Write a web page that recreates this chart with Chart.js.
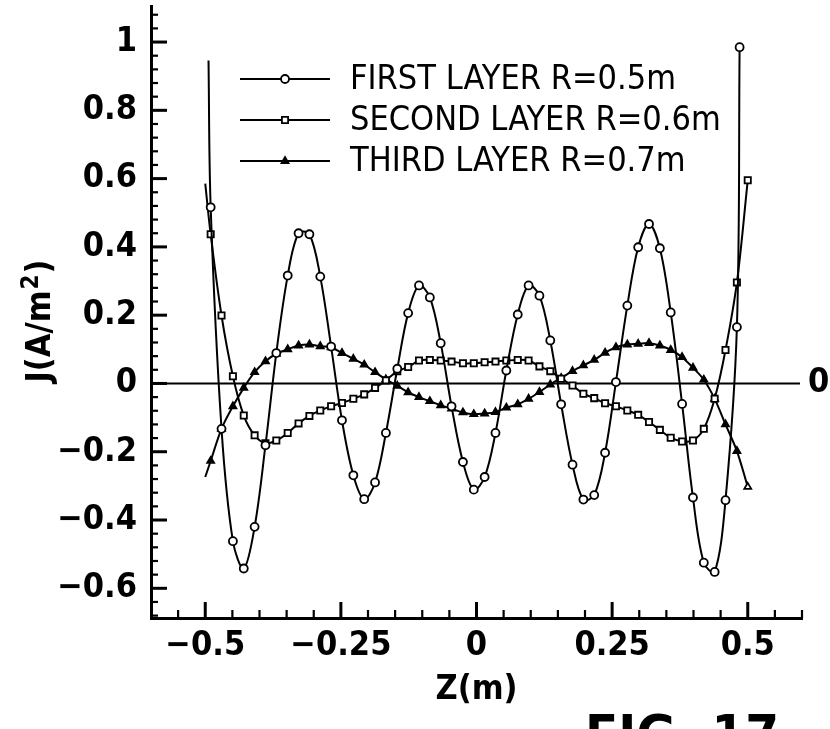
<!DOCTYPE html>
<html>
<head>
<meta charset="utf-8">
<style>
html,body{margin:0;padding:0;background:#fff;overflow:hidden;}
canvas{display:block;}
</style>
<script src="https://cdn.jsdelivr.net/npm/chart.js@4.4.1/dist/chart.umd.min.js"></script>
</head>
<body>
<canvas id="c" width="830" height="729"></canvas>
<script>
// ---- data ----
const zGrid = [-0.490,-0.470,-0.449,-0.429,-0.409,-0.389,-0.369,-0.348,-0.328,-0.308,
  -0.288,-0.268,-0.248,-0.227,-0.207,-0.187,-0.167,-0.146,-0.126,-0.106,
  -0.086,-0.066,-0.046,-0.025,-0.005,0.015,0.035,0.055,0.076,0.096,
  0.116,0.136,0.156,0.177,0.197,0.217,0.237,0.257,0.278,0.298,
  0.318,0.338,0.358,0.379,0.399,0.419,0.439,0.459,0.480,0.500];

const zFirst = [-0.494].concat(zGrid.slice(0, 49), [0.485]);
const jFirst = [0.946, 0.516,-0.133,-0.462,-0.542,-0.420,-0.181,0.089,0.316,0.440,0.437,
  0.313,0.108,-0.108,-0.269,-0.339,-0.290,-0.145,0.043,0.206,0.287,
  0.252,0.118,-0.067,-0.230,-0.311,-0.274,-0.145,0.038,0.202,0.287,
  0.257,0.126,-0.061,-0.238,-0.340,-0.327,-0.203,0.004,0.228,0.399,
  0.467,0.396,0.208,-0.060,-0.334,-0.525,-0.552,-0.342,0.165, 0.985];

const zSecond = [-0.500].concat(zGrid);
const jSecond = [0.585, 0.437,0.199,0.021,-0.094,-0.152,-0.175,-0.167,-0.145,-0.117,-0.095,
  -0.079,-0.067,-0.057,-0.045,-0.032,-0.013,0.009,0.036,0.048,0.067,
  0.069,0.067,0.064,0.059,0.059,0.062,0.064,0.067,0.069,0.067,
  0.050,0.036,0.014,-0.006,-0.030,-0.043,-0.058,-0.067,-0.079,-0.092,
  -0.113,-0.136,-0.159,-0.170,-0.167,-0.133,-0.045,0.098,0.296,0.595];

const zThird = [-0.500].concat(zGrid);
const jThird = [-0.274, -0.227,-0.133,-0.067,-0.013,0.033,0.065,0.087,0.100,0.111,0.114,
  0.109,0.106,0.089,0.072,0.055,0.033,0.012,-0.007,-0.026,-0.040,
  -0.052,-0.064,-0.074,-0.085,-0.090,-0.088,-0.084,-0.071,-0.061,-0.045,
  -0.025,-0.003,0.016,0.036,0.053,0.069,0.090,0.106,0.114,0.116,
  0.118,0.111,0.098,0.077,0.046,0.011,-0.045,-0.120,-0.198,-0.303];

const seriesNames = ['FIRST LAYER R=0.5m','SECOND LAYER R=0.6m','THIRD LAYER R=0.7m'];
const xTickValues = [-0.5,-0.25,0,0.25,0.5];
const xTickLabels = ['\u22120.5','\u22120.25','0','0.25','0.5'];
const yTickValues = [-0.6,-0.4,-0.2,0,0.2,0.4,0.6,0.8,1];
const yTickLabels = ['\u22120.6','\u22120.4','\u22120.2','0','0.2','0.4','0.6','0.8','1'];
const xTitle = 'Z(m)';
const yTitleMain = 'J(A/m', yTitleSup = '2', yTitleEnd = ')';
const figLabel = 'FIG. 17';

// ---- styles ----
const FAM = "'Liberation Sans Narrow','DejaVu Sans Condensed','Liberation Sans',sans-serif";
const tickFont = {family: FAM, size: 34, weight: 'bold'};

function pts(zs, js) { return zs.map((z, i) => ({x: z, y: js[i]})); }

function ds(label, zs, js, style, fillFn) {
  return {
    label, data: pts(zs, js), showLine: true,
    borderColor: '#000', borderWidth: 2, tension: 0.35,
    pointStyle: style,
    pointRadius: c => (c.dataIndex === 0 ? 0 : (style === 'rect' ? 4.4 : 4)),
    pointBorderWidth: 1.8, pointBorderColor: '#000',
    pointBackgroundColor: fillFn, clip: false
  };
}

function drawMarker(ctx, style, x, y, fill) {
  ctx.save();
  ctx.lineWidth = 1.8; ctx.strokeStyle = '#000'; ctx.fillStyle = fill;
  ctx.beginPath();
  if (style === 'circle') ctx.arc(x, y, 4, 0, Math.PI * 2);
  else if (style === 'rect') { const s = 4.4 * Math.SQRT1_2; ctx.rect(x - s, y - s, 2 * s, 2 * s); }
  else { const r = 4; ctx.moveTo(x, y - r); ctx.lineTo(x + r * 0.866, y + r * 0.5); ctx.lineTo(x - r * 0.866, y + r * 0.5); ctx.closePath(); }
  ctx.fill(); ctx.stroke();
  ctx.restore();
}

const decor = {
  id: 'decor',
  beforeDatasetsDraw(chart) {
    const {ctx, chartArea: a, scales: {x, y}} = chart;
    ctx.save();
    // zero line
    const y0 = y.getPixelForValue(0);
    ctx.strokeStyle = '#000'; ctx.lineWidth = 2;
    ctx.beginPath(); ctx.moveTo(a.left, y0); ctx.lineTo(a.right - 2, y0); ctx.stroke();
    // inward ticks
    ctx.lineCap = 'butt';
    for (let i = -17; i <= 27; i++) {
      const py = y.getPixelForValue(i * 0.04);
      const major = i % 5 === 0;
      ctx.lineWidth = major ? 3 : 2.2;
      ctx.beginPath(); ctx.moveTo(a.left, py); ctx.lineTo(a.left + (major ? 16 : 7), py); ctx.stroke();
    }
    for (let i = -11; i <= 12; i++) {
      const px = x.getPixelForValue(i * 0.05);
      const major = i % 5 === 0;
      ctx.lineWidth = major ? 3 : 2.2;
      ctx.beginPath(); ctx.moveTo(px, a.bottom); ctx.lineTo(px, a.bottom - (major ? 16 : 8)); ctx.stroke();
    }
    ctx.restore();
  },
  afterDraw(chart) {
    const {ctx, chartArea: a, scales: {y}} = chart;
    ctx.save();
    ctx.fillStyle = '#000';
    // right "0" label
    ctx.font = `bold 34px ${FAM}`;
    ctx.textAlign = 'left'; ctx.textBaseline = 'middle';
    ctx.fillText('0', a.right + 6, y.getPixelForValue(0));
    // legend
    const rows = [79, 120, 161];
    const styles = ['circle', 'rect', 'triangle'];
    ctx.font = `34px ${FAM}`;
    rows.forEach((ry, i) => {
      ctx.strokeStyle = '#000'; ctx.lineWidth = 2;
      ctx.beginPath(); ctx.moveTo(240, ry); ctx.lineTo(330, ry); ctx.stroke();
      drawMarker(ctx, styles[i], 285, ry, i === 2 ? '#000' : '#fff');
      ctx.fillStyle = '#000'; ctx.textAlign = 'left'; ctx.textBaseline = 'middle';
      ctx.fillText(seriesNames[i], 350, ry + 1);
    });
    // y title with raised 2
    ctx.save();
    ctx.translate(38, 322); ctx.rotate(-Math.PI / 2);
    const fMain = `bold 34px ${FAM}`, fSup = `bold 24px ${FAM}`;
    ctx.font = fMain; const w1 = ctx.measureText(yTitleMain).width; const w3 = ctx.measureText(yTitleEnd).width;
    ctx.font = fSup; const w2 = ctx.measureText(yTitleSup).width;
    let sx = -(w1 + w2 + w3) / 2;
    ctx.textAlign = 'left'; ctx.textBaseline = 'alphabetic';
    ctx.font = fMain; ctx.fillText(yTitleMain, sx, 12); sx += w1;
    ctx.font = fSup; ctx.fillText(yTitleSup, sx + 1, 0); sx += w2 + 2;
    ctx.font = fMain; ctx.fillText(yTitleEnd, sx, 12);
    ctx.restore();
    // figure label (cut off at bottom)
    ctx.font = `bold 54px ${FAM}`;
    ctx.textAlign = 'left'; ctx.textBaseline = 'alphabetic';
    ctx.fillText(figLabel, 585, 753);
    ctx.restore();
  }
};

new Chart(document.getElementById('c'), {
  type: 'line',
  data: {
    datasets: [
      ds(seriesNames[0], zFirst, jFirst, 'circle', '#fff'),
      ds(seriesNames[1], zSecond, jSecond, 'rect', '#fff'),
      ds(seriesNames[2], zThird, jThird, 'triangle', c => (c.dataIndex === jThird.length - 1 ? '#fff' : '#000'))
    ]
  },
  options: {
    responsive: false, animation: false, devicePixelRatio: 1,
    layout: {padding: {left: 0, right: 28, top: 5, bottom: 0}},
    plugins: {legend: {display: false}, tooltip: {enabled: false}},
    scales: {
      x: {
        type: 'linear', min: -0.6, max: 0.6,
        afterFit(s) { s.height = 111; s.paddingLeft = 0; s.paddingRight = 0; },
        afterBuildTicks(s) { s.ticks = xTickValues.map(v => ({value: v})); },
        grid: {display: false, drawTicks: false},
        border: {display: true, color: '#000', width: 3},
        ticks: {autoSkip: false, maxRotation: 0, padding: 8, color: '#000', font: tickFont,
          callback: (v, i) => xTickLabels[i]},
        title: {display: true, text: xTitle, color: '#000', font: {family: FAM, size: 34, weight: 'bold'},
          padding: {top: 0, bottom: 18}}
      },
      y: {
        type: 'linear', min: -0.687, max: 1.105,
        afterFit(s) { s.width = 151; s.paddingTop = 0; s.paddingBottom = 0; },
        afterBuildTicks(s) { s.ticks = yTickValues.map(v => ({value: v})); },
        grid: {display: false, drawTicks: false},
        border: {display: true, color: '#000', width: 3},
        ticks: {autoSkip: false, padding: 14, color: '#000', font: tickFont,
          callback: (v, i) => yTickLabels[i]}
      }
    }
  },
  plugins: [decor]
});
</script>
</body>
</html>
